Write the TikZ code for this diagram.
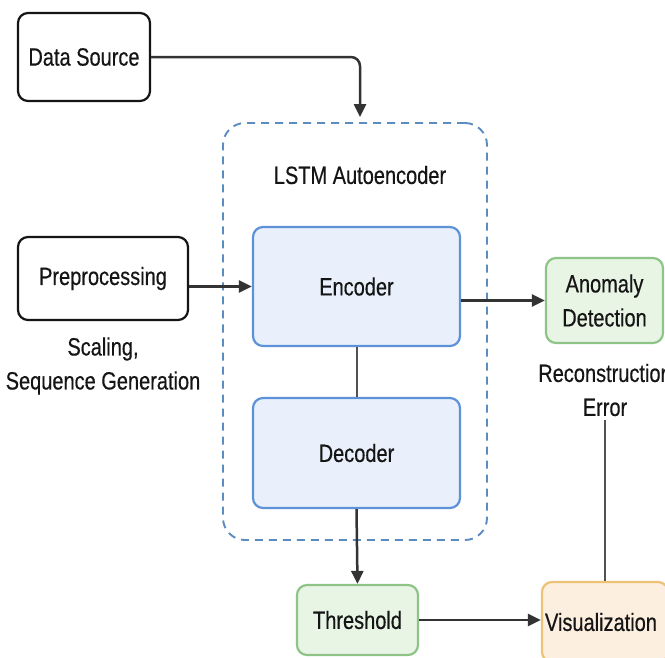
\documentclass[tikz,border=0pt]{standalone}
\usepackage{fontspec}
\setmainfont{Liberation Sans}[FakeStretch=0.8,FakeBold=0.4]
\usetikzlibrary{arrows.meta}
\definecolor{ink}{HTML}{151515}
\definecolor{lineclr}{HTML}{333333}
\definecolor{contclr}{HTML}{5A8CC0}
\definecolor{encfill}{HTML}{E9F0FB}
\definecolor{encdraw}{HTML}{5E92D8}
\definecolor{grnfill}{HTML}{E8F4E4}
\definecolor{grndraw}{HTML}{8EC488}
\definecolor{orgfill}{HTML}{FDEFDF}
\definecolor{orgdraw}{HTML}{EDC276}
\tikzset{
  every node/.style={text=ink, font=\fontsize{25}{34}\selectfont, inner sep=0pt, align=center},
  plainbox/.style={draw=ink, line width=2.2pt, rounded corners=10pt, fill=white},
  bluebox/.style={draw=encdraw, fill=encfill, line width=2.2pt, rounded corners=10pt},
  greenbox/.style={draw=grndraw, fill=grnfill, line width=2.2pt, rounded corners=10pt},
  orangebox/.style={draw=orgdraw, fill=orgfill, line width=2.2pt, rounded corners=10pt},
  container/.style={draw=contclr, line width=1.9pt, dash pattern=on 8pt off 6pt, rounded corners=22pt},
  arr/.style={draw=lineclr, line width=2.5pt, -{Triangle[length=13pt,width=12pt]}},
  link/.style={draw=lineclr!85, line width=2pt},
}
\begin{document}
\begin{tikzpicture}[x=1pt,y=-1pt]
\path[use as bounding box] (0,0) rectangle (665,657);
\fill[white] (0,0) rectangle (665,657);
\clip (0,0) rectangle (665,657);

\node[container, minimum width=264pt, minimum height=417pt] (cont) at (355,331.5) {};
\node (title) at (360,175) {LSTM Autoencoder};

\node[plainbox, minimum width=132pt, minimum height=88pt] (ds) at (84,57) {Data Source};
\node[plainbox, minimum width=170pt, minimum height=83pt] (pre) at (103,278.5) {Preprocessing};
\node (prelbl) at (103,366) {Scaling,\\Sequence Generation};

\node[bluebox, minimum width=207pt, minimum height=119pt] (enc) at (356.5,286.5) {Encoder};
\node[bluebox, minimum width=207pt, minimum height=110pt] (dec) at (356.5,453) {Decoder};

\node[greenbox, minimum width=117pt, minimum height=85pt] (anom) at (604.5,300.5) {Anomaly\\Detection};
\node (errlbl) at (605,390) {Reconstruction\\Error};

\node[greenbox, minimum width=121pt, minimum height=70pt] (thr) at (357.5,620) {Threshold};
\node[orangebox, minimum width=126pt, minimum height=80pt, text width=126pt] (vis) at (605,622) {\hspace*{-8pt}Visualization};

\coordinate (dsin) at (360,117);
\draw[arr, rounded corners=9pt] (ds.east) -| (dsin);
\draw[arr] (pre.east |- enc.west) -- (enc.west);
\draw[arr] (enc.east |- anom.west) -- (anom.west);
\draw[link] (enc.south) -- (dec.north);
\draw[arr] (dec.south) -- (thr.north);
\draw[arr] (thr.east) -- (vis.west |- thr.east);
\draw[link] ([yshift=-4pt]errlbl.south) -- (errlbl.south |- vis.north);
\end{tikzpicture}
\end{document}
